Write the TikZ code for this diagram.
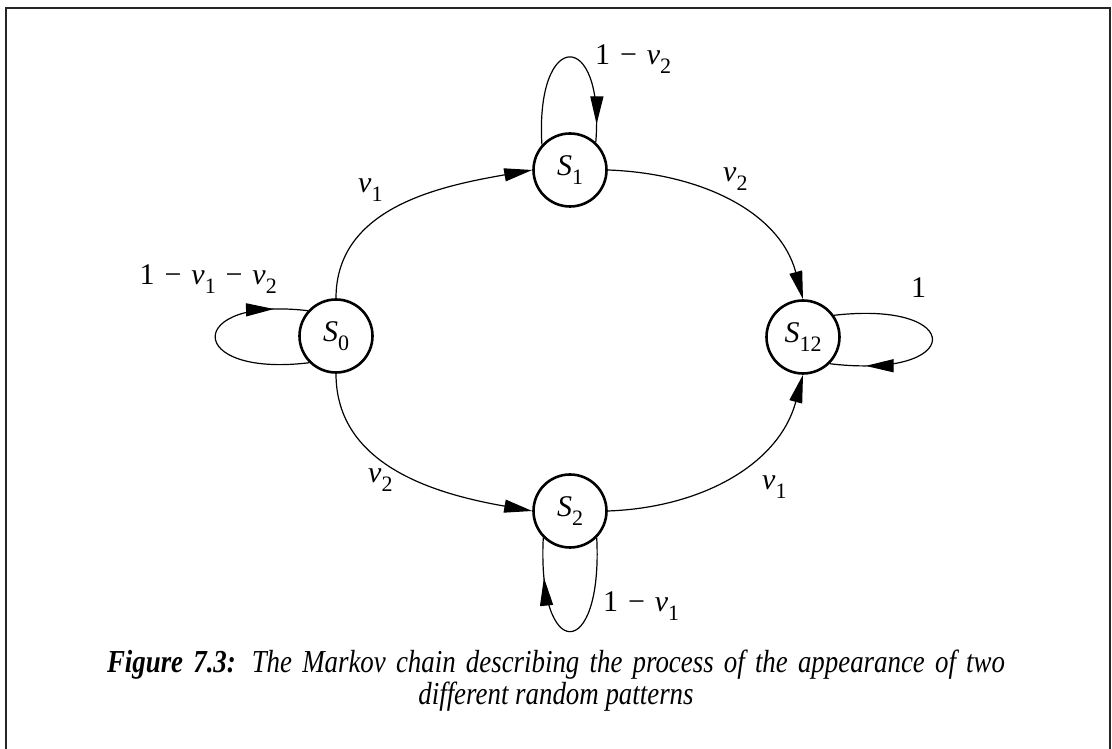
\documentclass[tikz,border=0pt]{standalone}
\usepackage{fontspec}
\setmainfont{Liberation Serif}
\newfontfamily\capfont{Liberation Serif}[FakeStretch=0.84]
\usetikzlibrary{arrows.meta,decorations.markings}
\newcommand\lbsub[1]{\raisebox{-0.28em}{\fontsize{22}{22}\selectfont #1}}
\newcommand\vv[1]{\textit{v}\lbsub{#1}}
\newcommand\mn{\hspace{0.33em}−\hspace{0.33em}}
\begin{document}
\begin{tikzpicture}[x=1pt,y=1pt,
  state/.style={circle,draw,line width=2.6pt,minimum size=73pt,inner sep=0pt,font=\fontsize{30}{30}\selectfont},
  edge/.style={line width=1.2pt,-{Triangle[length=28pt,width=13pt]}},
  loopline/.style={line width=1.2pt,postaction={decorate},
    decoration={markings,mark=at position #1 with {\arrow{Triangle[length=28pt,width=13pt]}}}},
  lbl/.style={font=\fontsize{30}{30}\selectfont,inner sep=0pt},
  captxt/.style={font=\capfont\fontsize{32}{34}\selectfont\itshape,inner sep=0pt,anchor=base}]
\useasboundingbox (0,0) rectangle (1112,749);
\draw[line width=1.6pt,black!85] (6,-20) rectangle (1110,741);
% states
\node[state] (S0) at (336,413) {\textit{S}\lbsub{0}};
\node[state] (S1) at (570,579) {\textit{S}\lbsub{1}};
\node[state] (S2) at (570,238) {\textit{S}\lbsub{2}};
\node[state] (S12) at (803,412) {\textit{S}\lbsub{12}};
% transitions
\draw[edge] (S0.north) to[out=90,in=190] (S1.west);
\draw[edge] (S1.east) to[out=-2,in=105] (S12.north);
\draw[edge] (S0.south) to[out=-90,in=170] (S2.west);
\draw[edge] (S2.east) to[out=2,in=-105] (S12.south);
% self loops
\draw[loopline=-18pt] (S1.138) .. controls (535,721) and (605,721) .. (S1.47);
\draw[loopline=-34pt] (S0.225) .. controls (184,371) and (184,453) .. (S0.138);
\draw[loopline=-36pt] (S12.35) .. controls (966,449) and (966,369) .. (S12.-45);
\draw[loopline=-40pt] (S2.-45) .. controls (603,86) and (537,86) .. (S2.-135);
% labels
\node[lbl,anchor=base west] (l1) at (595,684) {1\mn\vv{2}};
\node[lbl,anchor=base east] (l2) at (277,464) {1\mn\vv{1}\mn\vv{2}};
\node[lbl,anchor=base west] (l3) at (911,451) {1};
\node[lbl,anchor=base west] (l4) at (603,137) {1\mn\vv{1}};
\node[lbl,anchor=base west] (l5) at (358,556) {\vv{1}};
\node[lbl,anchor=base west] (l6) at (723,567) {\vv{2}};
\node[lbl,anchor=base west] (l7) at (368,266) {\vv{2}};
\node[lbl,anchor=base west] (l8) at (762,259) {\vv{1}};
% caption
\node[captxt] (cap1) at (556,76) {\makebox[898pt][s]{\textbf{Figure 7.3:} The Markov chain describing the process of the appearance of two}};
\node[captxt] (cap2) at (556,44) {different random patterns};
\end{tikzpicture}
\end{document}
